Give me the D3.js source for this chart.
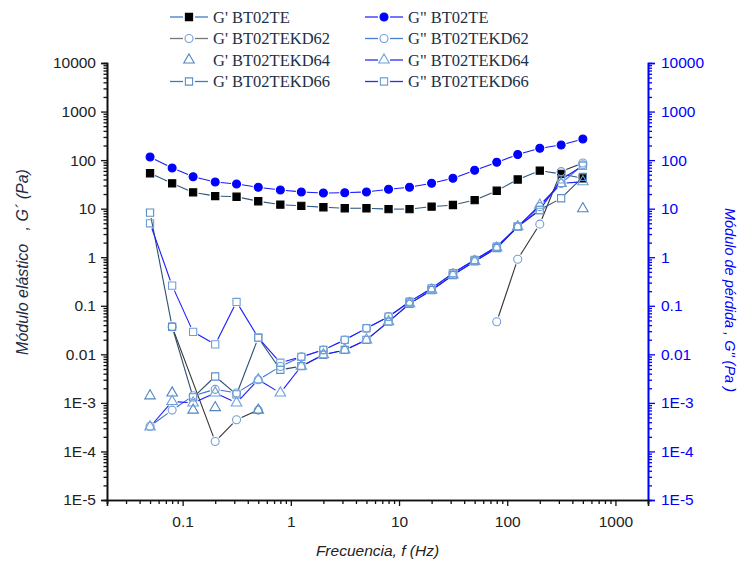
<!DOCTYPE html>
<html><head><meta charset="utf-8">
<script src="https://cdn.jsdelivr.net/npm/d3@7"></script>
<style>body{margin:0;background:#fff}svg{display:block}</style>
</head><body>
<svg id="c" width="739" height="573"></svg>
<script>
const freq = [0.05,0.08,0.125,0.2,0.315,0.5,0.8,1.25,2,3.15,5,8,12.5,20,31.5,50,80,125,200,315,500];
const gp_TE    = [53.6,33.3,21.7,18.2,17.6,14.2,12.1,11.4,10.7,10.2,10.2,9.8,9.8,11.0,11.9,15.0,23.4,39.9,60.5,52,42];
const gpp_TE   = [116,68.8,45.6,35.4,32.2,27.6,24.3,22.1,21.0,21.3,22.1,25.1,27.6,33.3,42.2,61.7,90,130,175,205,272];
const gp_KD62  = [null,0.037,null,1.6e-4,4.5e-4,7.1e-4,null,null,null,null,null,null,null,null,null,null,0.047,0.91,4.8,58,87];
const gpp_KD62 = [3.3e-4,7.1e-4,1.4e-3,1.9e-3,1.6e-3,3.0e-3,5.6e-3,8.9e-3,0.0123,0.0198,0.0344,0.0597,0.121,0.229,0.47,0.88,1.65,4.3,11,33,80];
const gp_KD64  = [1.4e-3,1.6e-3,7.1e-4,8e-4,null,7.1e-4,null,null,null,null,null,null,null,null,null,null,null,null,null,null,10];
const gpp_KD64 = [3.2e-4,1.07e-3,1.0e-3,1.6e-3,1.0e-3,3.0e-3,1.6e-3,5.7e-3,9.8e-3,0.0123,0.0198,0.047,0.11,0.21,0.43,0.82,1.55,4.26,11.8,33,36];
const gp_KD66  = [8.3,0.037,1.3e-3,3.5e-3,1.5e-3,0.022,4.8e-3,5.7e-3,9.8e-3,0.0123,0.0198,0.047,0.11,0.21,0.43,0.82,1.55,4.26,9.4,16.4,45];
const gpp_KD66 = [5.0,0.26,0.029,0.016,0.12,0.022,6.7e-3,8.9e-3,0.0123,0.0198,0.0344,0.0597,0.121,0.229,0.47,0.88,1.65,4.26,9.4,40,76];

const seriesNames = ["G' BT02TE","G' BT02TEKD62","G' BT02TEKD64","G' BT02TEKD66","G\" BT02TE","G\" BT02TEKD62","G\" BT02TEKD64","G\" BT02TEKD66"];
const yTicks = [1e-5,1e-4,1e-3,1e-2,1e-1,1,10,100,1000,10000];
const yTickLabels = ["1E-5","1E-4","1E-3","0.01","0.1","1","10","100","1000","10000"];
const xTicks = [0.1,1,10,100,1000];
const xTickLabels = ["0.1","1","10","100","1000"];

const svg = d3.select("#c");
const L=107,R=648,T=63,B=500;
const x = d3.scaleLog().domain([0.02,2000]).range([L,R]);
const y = d3.scaleLog().domain([1e-5,1e4]).range([B,T]);

const OPEN = "#6f9fd6";
const series = [
  {name:seriesNames[0], v:gp_TE,   sym:"square",  fill:"#000", stroke:"#000", line:"#2f587e", col:0, leg:"#3b7dc0"},
  {name:seriesNames[1], v:gp_KD62, sym:"circle",  fill:"#fff", stroke:OPEN, line:"#333", col:0, leg:"#777"},
  {name:seriesNames[2], v:gp_KD64, sym:"triangle",fill:"#fff", stroke:"#4f86c0", line:null, col:0},
  {name:seriesNames[3], v:gp_KD66, sym:"square",  fill:"#fff", stroke:"#5a8ec8", line:"#2d4f6e", col:0, leg:"#3b7dc0"},
  {name:seriesNames[4], v:gpp_TE,  sym:"circle",  fill:"#0000ff", stroke:"#0000ff", line:"#1a1aff", col:1, leg:"#2a2aff"},
  {name:seriesNames[5], v:gpp_KD62,sym:"circle",  fill:"#fff", stroke:OPEN, line:"#3c6fd8", col:1, leg:"#4a7fd0"},
  {name:seriesNames[6], v:gpp_KD64,sym:"triangle",fill:"#fff", stroke:OPEN, line:"#1a1aff", col:1, leg:"#2a2aff"},
  {name:seriesNames[7], v:gpp_KD66,sym:"square",  fill:"#fff", stroke:OPEN, line:"#1a1aff", col:1, leg:"#2a2aff"}
];

function symPath(sym){
  if(sym==="square") return d3.symbol(d3.symbolSquare,52)();
  if(sym==="circle") return d3.symbol(d3.symbolCircle,50)();
  return d3.symbol(d3.symbolTriangle,48)();
}
const GAP=5.5, MAXSKIP=2;
function drawSeries(s){
  const pts = freq.map((f,i)=>s.v[i]==null?null:[x(f),y(s.v[i]),i]).filter(p=>p);
  const g = svg.append("g");
  if(s.line){
    for(let k=0;k<pts.length-1;k++){
      const a=pts[k], b=pts[k+1];
      if(b[2]-a[2]-1>MAXSKIP) continue; // connect across short gaps only
      const dx=b[0]-a[0], dy=b[1]-a[1], len=Math.hypot(dx,dy);
      if(len<=2*GAP+1) continue;
      const ux=dx/len, uy=dy/len;
      g.append("line").attr("x1",a[0]+ux*GAP).attr("y1",a[1]+uy*GAP)
        .attr("x2",b[0]-ux*GAP).attr("y2",b[1]-uy*GAP)
        .attr("stroke",s.line).attr("stroke-width",1.1);
    }
  }
  pts.forEach(p=>{
    g.append("path").attr("d",symPath(s.sym)).attr("transform",`translate(${p[0]},${p[1]})`)
      .attr("fill",s.fill==="#fff"?"none":s.fill).attr("stroke",s.stroke).attr("stroke-width",1.1);
  });
}

// axes
function minorTicks(lo,hi){const r=[];for(let e=lo;e<hi;e++)for(let k=2;k<=9;k++)r.push(k*Math.pow(10,e));return r;}
const yMin = minorTicks(-5,4), xMin = minorTicks(-2,4).filter(v=>v>=0.02&&v<=2000);
const fmtY = d=>yTickLabels[yTicks.indexOf(d)];
const fmtX = d=>xTickLabels[xTicks.indexOf(d)];

const gl = svg.append("g").attr("transform",`translate(${L},0)`);
gl.call(d3.axisLeft(y).tickValues(yTicks).tickFormat(fmtY).tickSize(6).tickPadding(5));
gl.append("g").call(d3.axisLeft(y).tickValues(yMin).tickFormat("").tickSize(3.5));
const gr = svg.append("g").attr("transform",`translate(${R},0)`);
gr.call(d3.axisRight(y).tickValues(yTicks).tickFormat(fmtY).tickSize(7).tickPadding(6));
gr.append("g").call(d3.axisRight(y).tickValues(yMin).tickFormat("").tickSize(4));
const gb = svg.append("g").attr("transform",`translate(0,${B})`);
gb.call(d3.axisBottom(x).tickValues(xTicks).tickFormat(fmtX).tickSize(6).tickPadding(10));
gb.append("g").call(d3.axisBottom(x).tickValues(xMin).tickFormat("").tickSize(4));

[gl,gb].forEach(g=>{g.selectAll("path,line").attr("stroke","#111").attr("stroke-width",1.3);
  g.selectAll("text").attr("font-family","Liberation Sans, Arial, sans-serif").attr("font-size",15.5).attr("fill","#222");});
gr.selectAll("path,line").attr("stroke","#0000ff").attr("stroke-width",1.3);
gr.selectAll("text").attr("font-family","Liberation Sans, Arial, sans-serif").attr("font-size",15.5).attr("fill","#0000ff");
svg.selectAll(".domain").attr("stroke-width",1.6);

series.forEach(drawSeries);

// titles
svg.append("text").attr("x",(L+R)/2).attr("y",556).attr("text-anchor","middle")
  .attr("font-family","Liberation Sans, Arial, sans-serif").attr("font-style","italic").attr("font-size",15.5).attr("fill","#222")
  .text("Frecuencia, f (Hz)");
svg.append("text").attr("transform","translate(28,262) rotate(-90)").attr("text-anchor","middle")
  .attr("font-family","Liberation Sans, Arial, sans-serif").attr("font-style","italic").attr("font-size",16).attr("fill","#1f2a44")
  .attr("xml:space","preserve").text("Módulo elástico   , G´ (Pa)");
svg.append("text").attr("transform","translate(725,300) rotate(90)").attr("text-anchor","middle")
  .attr("font-family","Liberation Sans, Arial, sans-serif").attr("font-style","italic").attr("font-size",14.5).attr("fill","#0000ff")
  .text("Módulo de pérdida , G\" (Pa )");

// legend
const legX=[170,365], legY0=17, legDy=21.5;
series.forEach((s,i)=>{
  const col=s.col, row=i%4;
  const cx=legX[col], cy=legY0+row*legDy;
  const g=svg.append("g");
  if(s.line){
    g.append("line").attr("x1",cx).attr("x2",cx+13).attr("y1",cy).attr("y2",cy).attr("stroke",s.leg).attr("stroke-width",1.3);
    g.append("line").attr("x1",cx+25).attr("x2",cx+38).attr("y1",cy).attr("y2",cy).attr("stroke",s.leg).attr("stroke-width",1.3);
  }
  g.append("path").attr("d",symPath(s.sym)).attr("transform",`translate(${cx+19},${cy})`)
    .attr("fill",s.fill==="#fff"?"none":s.fill).attr("stroke",s.stroke).attr("stroke-width",1.1);
  g.append("text").attr("x",cx+43).attr("y",cy+5.5).attr("font-family","Liberation Serif, Times New Roman, serif")
    .attr("font-size",16.5).attr("fill","#1d3047").text(s.name);
});
</script>
</body></html>
